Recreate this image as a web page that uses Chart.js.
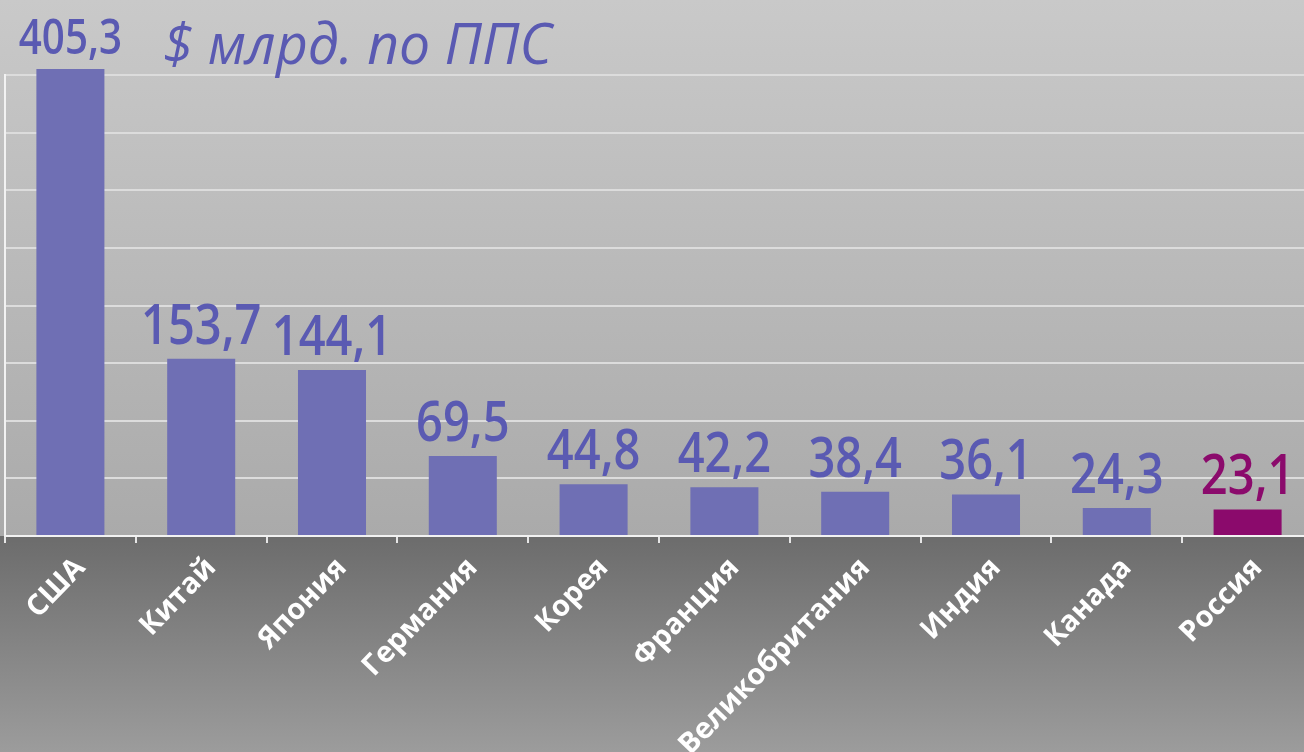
<!DOCTYPE html>
<html>
<head>
<meta charset="utf-8">
<script src="https://cdn.jsdelivr.net/npm/chart.js@4/dist/chart.umd.min.js"></script>
<style>
  html, body { margin: 0; padding: 0; overflow: hidden; background: #a8a8a8; }
  #wrap { position: absolute; left: 0; top: 0; width: 1314px; height: 752px; }
</style>
</head>
<body>
<div id="wrap"><canvas id="chart"></canvas></div>
<script>
// Data
const countries = ["США", "Китай", "Япония", "Германия", "Корея", "Франция", "Великобритания", "Индия", "Канада", "Россия"];
const spending = [405.3, 153.7, 144.1, 69.5, 44.8, 42.2, 38.4, 36.1, 24.3, 23.1];
const yTicks = [0, 50, 100, 150, 200, 250, 300, 350, 400];
const unitTitle = "$ млрд. по ППС";
const highlight = "Россия";

const barColor = "#6f6fb4";
const hiColor = "#8b0a6c";
const labelColor = "#5a5ab2";

// Background: light upper part, darker lower part under the axis
const bgPlugin = {
  id: 'bg',
  beforeDraw(chart) {
    const { ctx, width, height, chartArea } = chart;
    const b = chartArea.bottom;
    ctx.save();
    let g = ctx.createLinearGradient(0, 0, 0, b);
    g.addColorStop(0, '#c9c9c9');
    g.addColorStop(1, '#aaaaaa');
    ctx.fillStyle = g;
    ctx.fillRect(0, 0, width, b);
    g = ctx.createLinearGradient(0, b, 0, height);
    g.addColorStop(0, '#6c6c6c');
    g.addColorStop(1, '#9c9c9c');
    ctx.fillStyle = g;
    ctx.fillRect(0, b, width, height - b);
    ctx.restore();
  }
};

// Value labels above bars + unit title
const labelPlugin = {
  id: 'labels',
  afterDatasetsDraw(chart) {
    const ctx = chart.ctx;
    const meta = chart.getDatasetMeta(0);
    const yMax = chart.scales.y.max;
    meta.data.forEach((bar, i) => {
      const v = spending[i];
      // the label that sits above the top gridline is set smaller
      const size = v > yMax ? 48 : 56;
      ctx.save();
      ctx.font = `600 ${size}px "Open Sans"`;
      ctx.fillStyle = countries[i] === highlight ? hiColor : labelColor;
      ctx.textAlign = 'center';
      ctx.textBaseline = 'alphabetic';
      ctx.translate(bar.x, bar.y - 15);
      ctx.scale(0.84, 1);
      ctx.fillText(v.toFixed(1).replace('.', ','), 0, 0);
      ctx.restore();
    });
    ctx.save();
    ctx.font = 'italic 400 57px "Open Sans"';
    ctx.fillStyle = labelColor;
    ctx.textAlign = 'left';
    ctx.translate(163, 64);
    ctx.scale(0.97, 1);
    ctx.fillText(unitTitle, 0, 0);
    ctx.restore();
  }
};

new Chart(document.getElementById('chart'), {
  type: 'bar',
  data: {
    labels: countries,
    datasets: [{
      data: spending,
      backgroundColor: countries.map(c => c === highlight ? hiColor : barColor),
      barPercentage: 0.52,
      categoryPercentage: 1,
      clip: false
    }]
  },
  options: {
    responsive: true,
    maintainAspectRatio: false,
    animation: false,
    layout: { padding: { left: 5, right: 1, top: 75, bottom: 0 } },
    plugins: { legend: { display: false }, tooltip: { enabled: false } },
    scales: {
      x: {
        afterFit: s => { s.height = 216; },
        grid: { drawOnChartArea: false, drawTicks: true, tickLength: 7, color: '#e6e6e6', lineWidth: 2 },
        border: { display: true, color: '#f2f2f2', width: 2 },
        ticks: {
          color: '#ffffff',
          font: { family: '"Open Sans"', weight: 'bold', size: 29 },
          minRotation: 46, maxRotation: 46,
          labelOffset: 10,
          padding: 8,
          autoSkip: false
        }
      },
      y: {
        min: 0, max: 400,
        afterFit: s => { s.width = 0; },
        afterBuildTicks: s => { s.ticks = yTicks.map(v => ({ value: v })); },
        grid: { color: '#dcdcdc', lineWidth: 2, drawTicks: false },
        border: { display: true, color: '#f2f2f2', width: 2 },
        ticks: { display: false }
      }
    }
  },
  plugins: [bgPlugin, labelPlugin]
});
</script>
</body>
</html>
